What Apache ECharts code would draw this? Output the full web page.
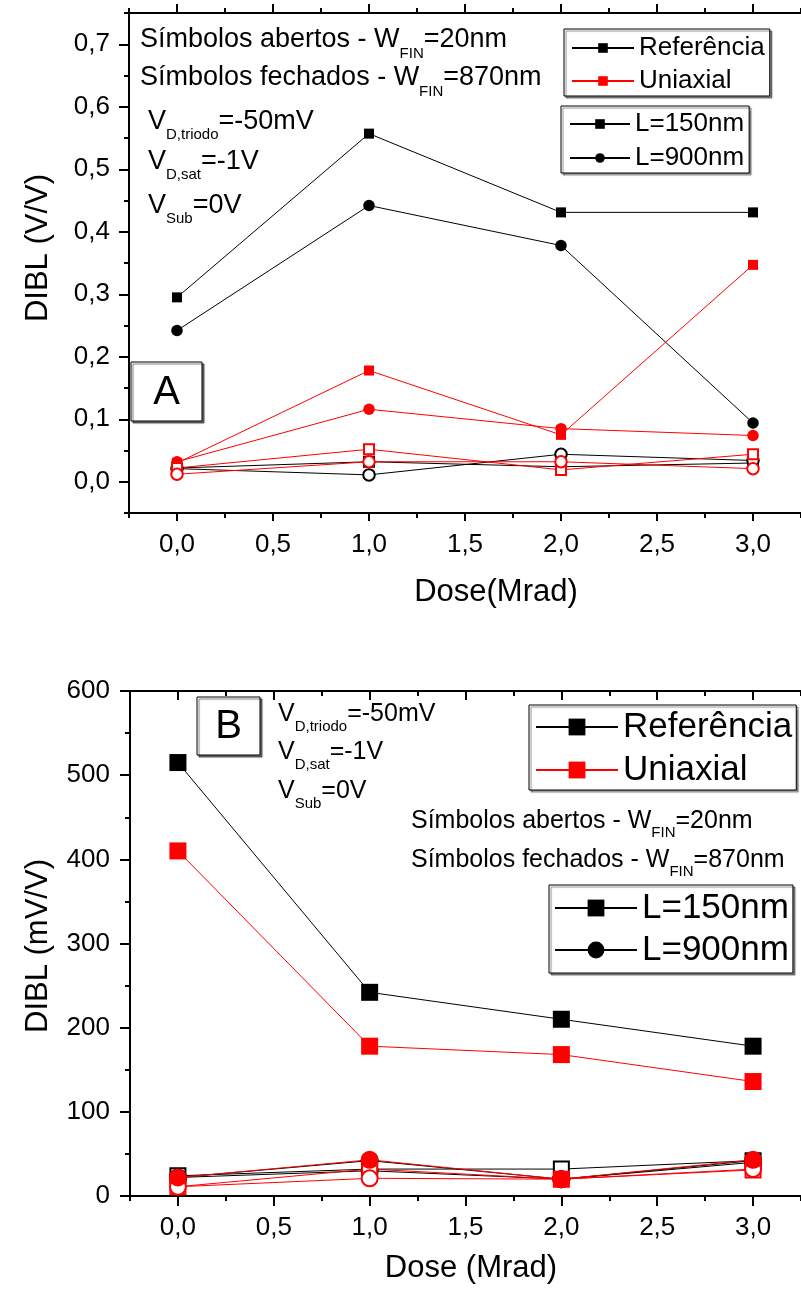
<!DOCTYPE html>
<html>
<head>
<meta charset="utf-8">
<script src="https://cdn.jsdelivr.net/npm/echarts@6/dist/echarts.min.js"></script>
<style>
  html, body { margin: 0; padding: 0; background: #fff; }
  #chart { width: 801px; height: 1289px; }
</style>
</head>
<body>
<div id="chart"></div>
<script>
// Irradiation dose (Mrad) for every curve
const doses = [0, 1, 2, 3];

// Panel A - DIBL in V/V
// W_FIN = 870 nm (filled symbols)
const aRefL150W870 = [0.295, 0.557, 0.431, 0.431];
const aRefL900W870 = [0.242, 0.442, 0.378, 0.094];
const aUniL150W870 = [0.030, 0.178, 0.075, 0.347];
const aUniL900W870 = [0.032, 0.116, 0.085, 0.074];
// W_FIN = 20 nm (open symbols)
const aRefL150W20 = [0.022, 0.032, 0.024, 0.030];
const aRefL900W20 = [0.021, 0.011, 0.044, 0.034];
const aUniL150W20 = [0.022, 0.052, 0.019, 0.044];
const aUniL900W20 = [0.012, 0.032, 0.032, 0.021];

// Panel B - DIBL in mV/V
const bRefL150W870 = [515, 242, 210, 178];
const bUniL150W870 = [410, 178, 168, 136];
const bRefL900W870 = [22, 42, 20, 42];
const bUniL900W870 = [22, 43, 20, 43];
const bRefL150W20 = [24, 32, 32, 42];
const bUniL150W20 = [11, 32, 20, 31];
const bRefL900W20 = [22, 30, 20, 40];
const bUniL900W20 = [11, 21, 20, 32];

// Tick positions
const doseTicks = [0, 0.5, 1, 1.5, 2, 2.5, 3];
const doseMinorTicks = [-0.25, 0.25, 0.75, 1.25, 1.75, 2.25, 2.75, 3.25];
const aTicks = [0, 0.1, 0.2, 0.3, 0.4, 0.5, 0.6, 0.7];
const aMinorTicks = [-0.05, 0.05, 0.15, 0.25, 0.35, 0.45, 0.55, 0.65, 0.75];
const bTicks = [0, 100, 200, 300, 400, 500, 600];
const bMinorTicks = [50, 150, 250, 350, 450, 550];

// Legend captions
const legendText = {
  refA: 'Referência', uniA: 'Uniaxial', l150A: 'L=150nm', l900A: 'L=900nm',
  refB: 'Referência', uniB: 'Uniaxial', l150B: 'L=150nm', l900B: 'L=900nm'
};

const FONT = '"Liberation Sans", Arial, sans-serif';
const BLACK = '#000000';
const RED = '#ff0000';

const comma1 = v => v.toFixed(1).replace('.', ',');

function pairs(values) {
  return doses.map((d, i) => [d, values[i]]);
}

const hiddenLine = { show: false, onZero: false };
function solidLine() {
  return { show: true, onZero: false, lineStyle: { color: BLACK, width: 2 } };
}

// x axes for one grid: bottom labelled axis, bottom minor ticks, top axis, top minor ticks
function doseAxes(gridIndex, topInside, majorLen, labelMargin) {
  const base = { type: 'value', gridIndex, min: -0.25, max: 3.25, splitLine: { show: false } };
  return [
    Object.assign({}, base, {
      position: 'bottom',
      axisLine: solidLine(),
      axisTick: { show: true, customValues: doseTicks, length: majorLen, lineStyle: { color: BLACK, width: 2 } },
      axisLabel: { show: true, customValues: doseTicks, formatter: comma1, margin: labelMargin,
        fontSize: 26, fontFamily: FONT, color: BLACK }
    }),
    Object.assign({}, base, {
      position: 'bottom',
      axisLine: hiddenLine,
      axisTick: { show: true, customValues: doseMinorTicks, length: 5, lineStyle: { color: BLACK, width: 2 } },
      axisLabel: { show: false }
    }),
    Object.assign({}, base, {
      position: 'top',
      axisLine: solidLine(),
      axisTick: { show: true, inside: topInside, customValues: doseTicks, length: 9, lineStyle: { color: BLACK, width: 2 } },
      axisLabel: { show: false }
    }),
    Object.assign({}, base, {
      position: 'top',
      axisLine: hiddenLine,
      axisTick: { show: true, inside: topInside, customValues: doseMinorTicks, length: 5, lineStyle: { color: BLACK, width: 2 } },
      axisLabel: { show: false }
    })
  ];
}

function dibAxes(gridIndex, min, max, ticks, minor, fmt, labelMargin) {
  const base = { type: 'value', gridIndex, min, max, position: 'left', splitLine: { show: false } };
  return [
    Object.assign({}, base, {
      axisLine: solidLine(),
      axisTick: { show: true, customValues: ticks, length: 10, lineStyle: { color: BLACK, width: 2 } },
      axisLabel: { show: true, customValues: ticks, formatter: fmt, margin: labelMargin,
        fontSize: 26, fontFamily: FONT, color: BLACK }
    }),
    Object.assign({}, base, {
      axisLine: hiddenLine,
      axisTick: { show: true, customValues: minor, length: 5, lineStyle: { color: BLACK, width: 2 } },
      axisLabel: { show: false }
    })
  ];
}

function curve(name, values, color, symbol, size, xIdx, yIdx) {
  const empty = symbol.indexOf('empty') === 0;
  return {
    type: 'line', name, data: pairs(values), xAxisIndex: xIdx, yAxisIndex: yIdx,
    symbol, symbolSize: size, showSymbol: true, silent: true,
    lineStyle: { color, width: 1 },
    itemStyle: { color, borderColor: color, borderWidth: empty ? 1.2 : 0 },
    emphasis: { disabled: true }
  };
}

function legendSeries(name, color, symbol, xIdx, yIdx) {
  return {
    type: 'line', name, data: [], xAxisIndex: xIdx, yAxisIndex: yIdx,
    symbol, color, lineStyle: { color, width: 1 }, itemStyle: { color }
  };
}

// Rich text with subscripts: parts = [[text, isSub], ...]
function label(parts, x, y, size, subSize, subDrop) {
  const text = parts.map(p => p[1] ? '{s|' + p[0] + '}' : '{m|' + p[0] + '}').join('');
  return {
    type: 'text', x, y, silent: true,
    style: {
      text, fill: BLACK, align: 'left', verticalAlign: 'middle',
      fontSize: size, fontFamily: FONT,
      rich: {
        m: { fontSize: size, fontFamily: FONT, fill: BLACK, color: BLACK },
        s: { fontSize: subSize, fontFamily: FONT, fill: BLACK, color: BLACK, padding: [subDrop * 2, 0, 0, 0] }
      }
    }
  };
}

function plainText(text, x, y, size, rotation) {
  return {
    type: 'text', x, y, rotation: rotation || 0, silent: true,
    style: { text, fill: BLACK, align: 'center', verticalAlign: 'middle', fontSize: size, fontFamily: FONT }
  };
}

function panelTag(letter, x, y, w, h, size) {
  return [
    { type: 'rect', shape: { x, y, width: w, height: h }, silent: true,
      style: { fill: '#fff', stroke: BLACK, lineWidth: 1,
        shadowColor: 'rgba(0,0,0,0.55)', shadowOffsetX: 2, shadowOffsetY: 2, shadowBlur: 1 } },
    plainText(letter, x + w / 2, y + h / 2 + 1, size)
  ];
}

function legendBox(data, left, top, itemWidth, itemHeight, fontSize, lineHeight, gap, padding) {
  return {
    orient: 'vertical', left, top, data, selectedMode: false,
    formatter: n => legendText[n],
    itemWidth, itemHeight, itemGap: gap, padding,
    textStyle: { fontSize, fontFamily: FONT, color: BLACK, lineHeight },
    borderColor: BLACK, borderWidth: 1, backgroundColor: '#fff',
    shadowColor: 'rgba(0,0,0,0.45)', shadowOffsetX: 2, shadowOffsetY: 2, shadowBlur: 1
  };
}

const xAxes = doseAxes(0, false, 8, 19).concat(doseAxes(1, true, 10, 19));
const yAxes = dibAxes(0, -0.05, 0.75, aTicks, aMinorTicks, comma1, 19)
  .concat(dibAxes(1, 0, 600, bTicks, bMinorTicks, v => String(Math.round(v)), 20));

const sA = 10, cA = 11.5, sB = 17, cB = 18;
const series = [
  // Panel A
  curve('aRefL150W870', aRefL150W870, BLACK, 'rect', sA, 0, 0),
  curve('aRefL900W870', aRefL900W870, BLACK, 'circle', cA, 0, 0),
  curve('aRefL150W20', aRefL150W20, BLACK, 'emptyRect', sA, 0, 0),
  curve('aRefL900W20', aRefL900W20, BLACK, 'emptyCircle', cA, 0, 0),
  curve('aUniL150W870', aUniL150W870, RED, 'rect', sA, 0, 0),
  curve('aUniL900W870', aUniL900W870, RED, 'circle', cA, 0, 0),
  curve('aUniL150W20', aUniL150W20, RED, 'emptyRect', sA, 0, 0),
  curve('aUniL900W20', aUniL900W20, RED, 'emptyCircle', cA, 0, 0),
  // Panel B
  curve('bRefL150W870', bRefL150W870, BLACK, 'rect', sB, 4, 2),
  curve('bRefL150W20', bRefL150W20, BLACK, 'emptyRect', sB - 2, 4, 2),
  curve('bRefL900W20', bRefL900W20, BLACK, 'emptyCircle', cB - 2, 4, 2),
  curve('bRefL900W870', bRefL900W870, BLACK, 'circle', cB, 4, 2),
  curve('bUniL150W870', bUniL150W870, RED, 'rect', sB, 4, 2),
  curve('bUniL150W20', bUniL150W20, RED, 'emptyRect', sB - 2, 4, 2),
  curve('bUniL900W20', bUniL900W20, RED, 'emptyCircle', cB - 2, 4, 2),
  curve('bUniL900W870', bUniL900W870, RED, 'circle', cB, 4, 2),
  // Legend entries
  legendSeries('refA', BLACK, 'rect', 0, 0),
  legendSeries('uniA', RED, 'rect', 0, 0),
  legendSeries('l150A', BLACK, 'rect', 0, 0),
  legendSeries('l900A', BLACK, 'circle', 0, 0),
  legendSeries('refB', BLACK, 'rect', 4, 2),
  legendSeries('uniB', RED, 'rect', 4, 2),
  legendSeries('l150B', BLACK, 'rect', 4, 2),
  legendSeries('l900B', BLACK, 'circle', 4, 2)
];

const graphics = [
  // Panel A annotations
  label([['Símbolos abertos - W', 0], ['FIN', 1], ['=20nm', 0]], 140, 40, 27, 15, 14),
  label([['Símbolos fechados - W', 0], ['FIN', 1], ['=870nm', 0]], 140, 78, 27, 15, 14),
  label([['V', 0], ['D,triodo', 1], ['=-50mV', 0]], 148, 122, 27, 15, 13),
  label([['V', 0], ['D,sat', 1], ['=-1V', 0]], 148, 162, 27, 15, 13),
  label([['V', 0], ['Sub', 1], ['=0V', 0]], 148, 206, 27, 15, 13),
  plainText('DIBL (V/V)', 38, 248, 31, Math.PI / 2),
  plainText('Dose(Mrad)', 496, 592, 31),
  // Panel B annotations
  label([['V', 0], ['D,triodo', 1], ['=-50mV', 0]], 278, 714, 25, 15, 13),
  label([['V', 0], ['D,sat', 1], ['=-1V', 0]], 278, 752, 25, 15, 13),
  label([['V', 0], ['Sub', 1], ['=0V', 0]], 278, 791, 25, 15, 13),
  label([['Símbolos abertos - W', 0], ['FIN', 1], ['=20nm', 0]], 411, 821, 25, 15, 12),
  label([['Símbolos fechados - W', 0], ['FIN', 1], ['=870nm', 0]], 411, 860, 25, 15, 12),
  plainText('DIBL (mV/V)', 38, 946, 31, Math.PI / 2),
  plainText('Dose (Mrad)', 471, 1268, 31)
].concat(panelTag('A', 131, 362, 71, 59, 40))
 .concat(panelTag('B', 197, 697, 63, 58, 40));

const option = {
  animation: false,
  backgroundColor: '#ffffff',
  grid: [
    { left: 129, top: 13, width: 677, height: 500, containLabel: false },
    { left: 130, top: 691, width: 682, height: 505, containLabel: false }
  ],
  xAxis: xAxes,
  yAxis: yAxes,
  legend: [
    legendBox(['refA', 'uniA'], 564, 29, 62, 12, 26, 26, 7, [6, 5, 2, 7]),
    legendBox(['l150A', 'l900A'], 561, 106, 60, 12, 26, 26, 8, [5, 5, 2, 8]),
    legendBox(['refB', 'uniB'], 529, 705, 82, 21, 35, 38, 5, [3, 4, 1, 6]),
    legendBox(['l150B', 'l900B'], 549, 885, 82, 21, 35, 38, 4, [4, 4, 4, 5])
  ],
  series,
  graphic: graphics
};

const chart = echarts.init(document.getElementById('chart'), null, { renderer: 'canvas' });
chart.setOption(option);
</script>
</body>
</html>
